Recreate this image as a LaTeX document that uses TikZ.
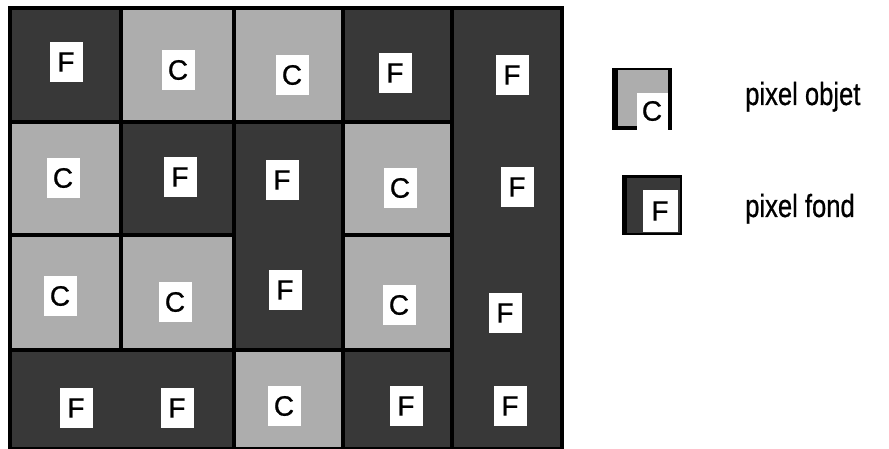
\documentclass[tikz,border=0pt]{standalone}
\usepackage{fontspec}
\setmainfont{Liberation Sans}
\newfontfamily\heavysans{Liberation Sans}[FakeBold=0.8]
\begin{document}
\begin{tikzpicture}[x=1pt,y=-1pt,
  dark/.style={fill=black!78},
  light/.style={fill=black!32},
  lbl/.style={fill=white,inner sep=0pt,minimum width=33pt,minimum height=40pt,font=\heavysans\fontsize{28}{28}\selectfont},
  legtext/.style={anchor=base west,inner sep=0pt,font=\heavysans\fontsize{32}{32}\selectfont}]
\useasboundingbox (0,0) rectangle (889,449);
% frame
\fill[black] (8,6) rectangle (564,449);
% dark regions (pixel fond)
\fill[dark] (12,10) rectangle (119,120);
\fill[dark] (345,10) rectangle (450,120);
\fill[dark] (454,10) rectangle (560,447);
\fill[dark] (123,124) rectangle (232,233);
\fill[dark] (236,124) rectangle (341,348);
\fill[dark] (12,352) rectangle (232,447);
\fill[dark] (345,352) rectangle (450,447);
% light cells (pixel objet)
\fill[light] (123,10) rectangle (232,120);
\fill[light] (236,10) rectangle (341,120);
\fill[light] (12,124) rectangle (119,233);
\fill[light] (345,124) rectangle (450,233);
\fill[light] (12,237) rectangle (119,348);
\fill[light] (123,237) rectangle (232,348);
\fill[light] (345,237) rectangle (450,348);
\fill[light] (236,352) rectangle (341,447);
% labels row 1
\node[lbl] (a11) at (66,62) {F};
\node[lbl] (a12) at (178,70) {C};
\node[lbl] (a13) at (292,75) {C};
\node[lbl] (a14) at (395,73) {F};
\node[lbl] (a15) at (512,75) {F};
% row 2
\node[lbl] (a21) at (63,178) {C};
\node[lbl] (a22) at (180,177) {F};
\node[lbl] (a23) at (282,180) {F};
\node[lbl] (a24) at (400,188) {C};
\node[lbl] (a25) at (517,187) {F};
% row 3
\node[lbl] (a31) at (60,296) {C};
\node[lbl] (a32) at (175,302) {C};
\node[lbl] (a33) at (285,290) {F};
\node[lbl] (a34) at (399,305) {C};
\node[lbl] (a35) at (505,313) {F};
% row 4
\node[lbl] (a41) at (76,408) {F};
\node[lbl] (a42) at (177,408) {F};
\node[lbl] (a43) at (284,406) {C};
\node[lbl] (a44) at (406,406) {F};
\node[lbl] (a45) at (510,406) {F};
% legend: pixel objet
\fill[black] (612,68) rectangle (672,130);
\fill[light] (618,70) rectangle (668,126);
\fill[white] (637,93) rectangle (668,130);
\node[inner sep=0pt,font=\heavysans\fontsize{28}{28}\selectfont] (legC) at (652,111) {C};
\node[legtext] (legCt) at (745,105) {\scalebox{0.8}[1]{pixel objet}};
% legend: pixel fond
\fill[black] (622,175) rectangle (682,235);
\fill[dark] (627,178) rectangle (680,233);
\fill[white] (643,190) rectangle (678,232);
\node[inner sep=0pt,font=\heavysans\fontsize{28}{28}\selectfont] (legF) at (660,211) {F};
\node[legtext] (legFt) at (745,217) {\scalebox{0.8}[1]{pixel fond}};
\end{tikzpicture}
\end{document}
